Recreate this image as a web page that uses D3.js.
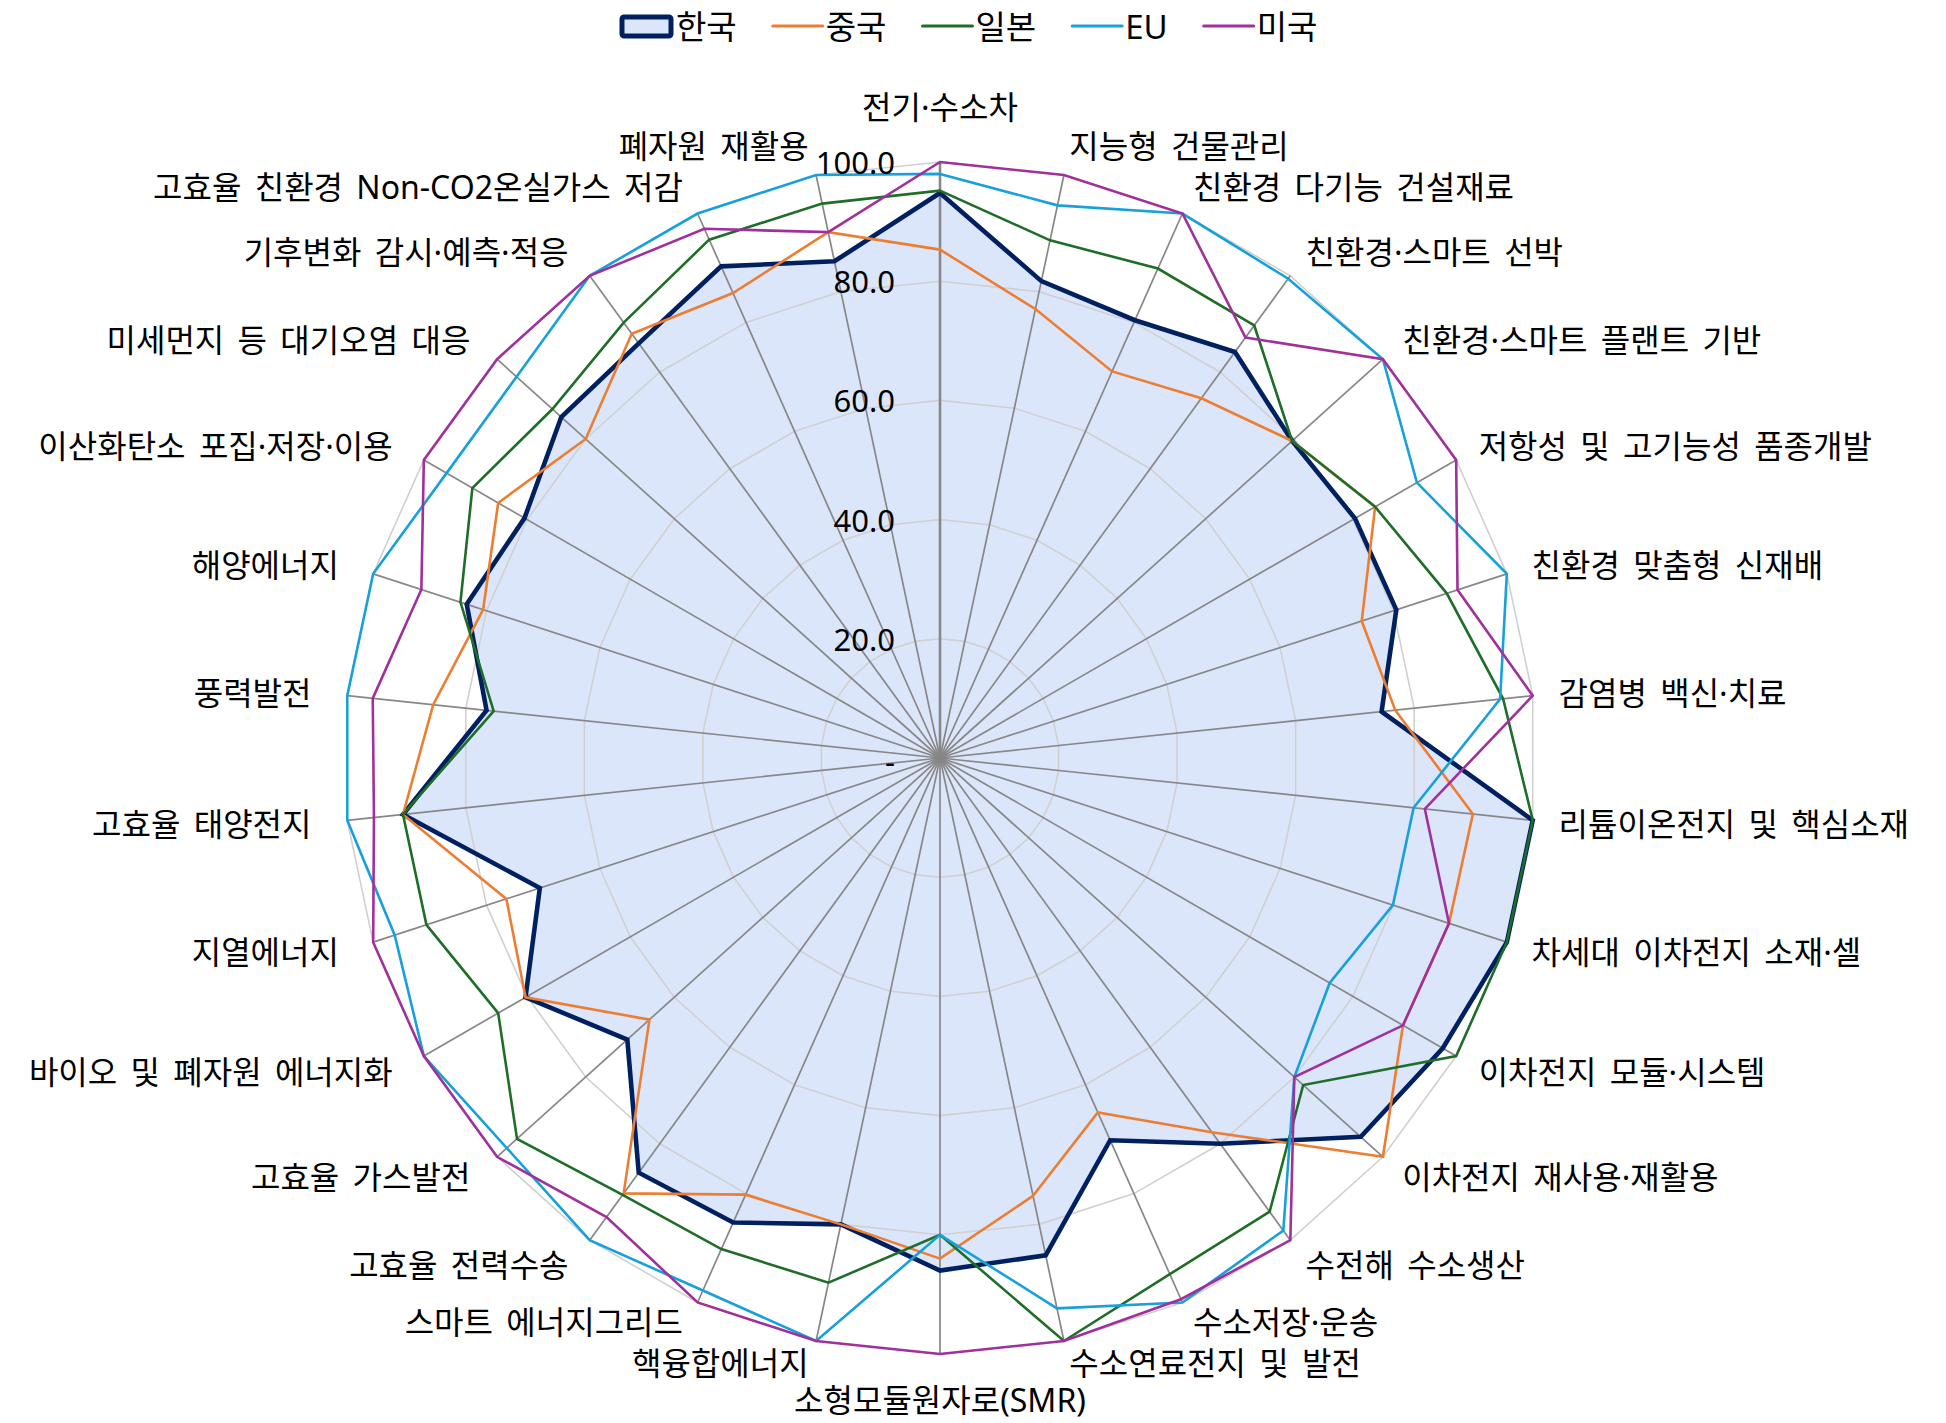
<!DOCTYPE html>
<html>
<head>
<meta charset="utf-8">
<script src="https://cdn.jsdelivr.net/npm/d3@7"></script>
<style>
	body { margin: 0; background: #fff; }
	text { font-family: "Noto Sans", "Noto Sans CJK KR", sans-serif; fill: #000; }
</style>
</head>
<body>
<div id="chart"></div>
<script>
// categories, clockwise from the top
var categories = ["전기·수소차", "지능형 건물관리", "친환경 다기능 건설재료", "친환경·스마트 선박",
	"친환경·스마트 플랜트 기반", "저항성 및 고기능성 품종개발", "친환경 맞춤형 신재배", "감염병 백신·치료",
	"리튬이온전지 및 핵심소재", "차세대 이차전지 소재·셀", "이차전지 모듈·시스템", "이차전지 재사용·재활용",
	"수전해 수소생산", "수소저장·운송", "수소연료전지 및 발전", "소형모듈원자로(SMR)",
	"핵융합에너지", "스마트 에너지그리드", "고효율 전력수송", "고효율 가스발전",
	"바이오 및 폐자원 에너지화", "지열에너지", "고효율 태양전지", "풍력발전",
	"해양에너지", "이산화탄소 포집·저장·이용", "미세먼지 등 대기오염 대응", "기후변화 감시·예측·적응",
	"고효율 친환경 Non-CO2온실가스 저감", "폐자원 재활용"];

var korea = [94.8, 81.8, 80.4, 84.2, 79.5, 80.4, 80.5, 74.5, 100, 100, 97.4, 95, 80, 70.2, 85.3,
	86, 80, 85.3, 86, 70.6, 80.3, 70.6, 90.6, 76.5, 83.5, 80.5, 85.5, 86, 90.3, 85.2];
var china = [85.3, 77, 71, 74.6, 79.5, 84.3, 74.4, 76.8, 89.9, 89.8, 89.7, 100, 77.6, 65.1, 75.1,
	84, 80, 80.2, 90.3, 65.6, 80.3, 76.5, 90.6, 85.5, 80.6, 85.6, 80, 88, 85.4, 90.2];
var japan = [95.2, 88.8, 89.9, 89.7, 79.5, 84.3, 89.4, 95, 100, 100, 100, 82, 94.1, 94.8, 100,
	80, 90, 90.2, 90.6, 95.5, 85.6, 90.6, 90.6, 75.3, 84.6, 90.6, 87.5, 90.3, 95.2, 95.1];
var eu = [98, 94.8, 100, 99.4, 100, 92.4, 100, 94.5, 79.9, 79.9, 75.5, 80, 98, 100, 94.4,
	80, 100, 97.8, 100, 97.8, 100, 96.2, 100, 100, 100, 95.6, 95.6, 100, 100, 100];
var usa = [100, 100, 100, 87.2, 100, 100, 91.3, 100, 81.8, 89.8, 89.7, 80, 100, 99.4, 100,
	100, 100, 100, 95.2, 100, 100, 100, 95.5, 95.7, 91.5, 100, 100, 100, 97.2, 90.2];

var seriesNames = ["한국", "중국", "일본", "EU", "미국"];
var tickValues = [0, 20, 40, 60, 80, 100];
var tickLabels = ["-", "20.0", "40.0", "60.0", "80.0", "100.0"];

//
// Set up
//
var _width = 1946,
	_height = 1423;

var centre = { x: 940, y: 758 },
	radius = 596,
	n = categories.length;

var colours = ["#002060", "#ED7D31", "#1E6E28", "#17A0DA", "#A0309B"];
var koreaFill = "#DCE6FB";

var r = d3.scaleLinear().domain([0, 100]).range([0, radius]);
var angle = d3.scaleLinear().domain([0, n]).range([0, 2 * Math.PI]);

var svg = d3.select("#chart").append("svg")
	.attr("width", _width)
	.attr("height", _height);

svg.append("rect")
	.attr("width", _width)
	.attr("height", _height)
	.attr("fill", "#fff");

var g = svg.append("g")
	.attr("transform", "translate(" + centre.x + "," + centre.y + ")");

var radar = d3.lineRadial()
	.angle(function(d, i) { return angle(i); })
	.radius(function(d) { return r(d); })
	.curve(d3.curveLinearClosed);

// Korea area fill sits below the grid
g.append("path")
	.datum(korea)
	.attr("d", radar)
	.attr("fill", koreaFill)
	.attr("stroke", "none");

// grid rings
g.selectAll("path.ring")
	.data(tickValues.slice(1))
	.enter()
	.append("path")
	.attr("class", "ring")
	.attr("d", function(v) { return radar(d3.range(n).map(function() { return v; })); })
	.attr("fill", "none")
	.attr("stroke", "#D0D0D0")
	.attr("stroke-width", 1.6);

// spokes
g.selectAll("line.spoke")
	.data(d3.range(n))
	.enter()
	.append("line")
	.attr("class", "spoke")
	.attr("x1", 0)
	.attr("y1", 0)
	.attr("x2", function(i) { return r(100) * Math.sin(angle(i)); })
	.attr("y2", function(i) { return -r(100) * Math.cos(angle(i)); })
	.attr("stroke", "#878787")
	.attr("stroke-width", function(i) { return i === 0 ? 2.6 : 1.7; });

// series lines
var series = [korea, china, japan, eu, usa];
g.selectAll("path.series")
	.data(series)
	.enter()
	.append("path")
	.attr("class", "series")
	.attr("d", radar)
	.attr("fill", "none")
	.attr("stroke", function(d, i) { return colours[i]; })
	.attr("stroke-width", function(d, i) { return i === 0 ? 4.6 : 2.6; })
	.attr("stroke-linejoin", "miter");

// value tick labels
g.selectAll("text.tick")
	.data(tickValues)
	.enter()
	.append("text")
	.attr("class", "tick")
	.attr("x", -45)
	.attr("y", function(v) { return -r(v) + (v === 0 ? 3 : 0); })
	.attr("text-anchor", "end")
	.attr("dominant-baseline", "central")
	.style("font-size", "31px")
	.text(function(v, i) { return tickLabels[i]; });

// category labels
var bottom = n / 2;
g.selectAll("text.cat")
	.data(categories)
	.enter()
	.append("text")
	.attr("class", "cat")
	.attr("x", function(d, i) {
		var s = Math.sin(angle(i)),
			pad = s < 0 ? 36 : 26;
		return (r(100) + pad) * s;
	})
	.attr("y", function(d, i) {
		var y = -(r(100) + 30) * Math.cos(angle(i));
		if (i === 0) y -= 26;
		if (i === bottom) y += 15;
		// squeeze the crowded labels near the bottom upwards a little
		if (Math.abs(i - bottom) === 1) y -= 8;
		if (Math.abs(i - bottom) === 2) y -= 8;
		return y;
	})
	.attr("text-anchor", function(d, i) {
		var s = Math.sin(angle(i));
		if (Math.abs(s) < 0.01) return "middle";
		return s > 0 ? "start" : "end";
	})
	.attr("dominant-baseline", "central")
	.style("font-size", "32px")
	.style("word-spacing", "5px")
	.text(function(d) { return d; });

//
// Legend
//
var legend = svg.append("g").attr("transform", "translate(0,26)");
var lx = 620;
seriesNames.forEach(function(name, i) {
	if (i === 0) {
		legend.append("rect")
			.attr("x", lx + 2)
			.attr("y", -9)
			.attr("width", 49)
			.attr("height", 19)
			.attr("rx", 2)
			.attr("fill", koreaFill)
			.attr("stroke", colours[0])
			.attr("stroke-width", 5);
		lx += 56;
	}
	else {
		legend.append("line")
			.attr("x1", lx)
			.attr("x2", lx + 50)
			.attr("y1", 0)
			.attr("y2", 0)
			.attr("stroke", colours[i])
			.attr("stroke-width", 3)
			.attr("stroke-linecap", "round");
		lx += 53;
	}
	var t = legend.append("text")
		.attr("x", lx)
		.attr("y", 0)
		.attr("dominant-baseline", "central")
		.style("font-size", "33px")
		.text(name);
	lx += t.node().getComputedTextLength() + 36;
});
</script>
</body>
</html>
